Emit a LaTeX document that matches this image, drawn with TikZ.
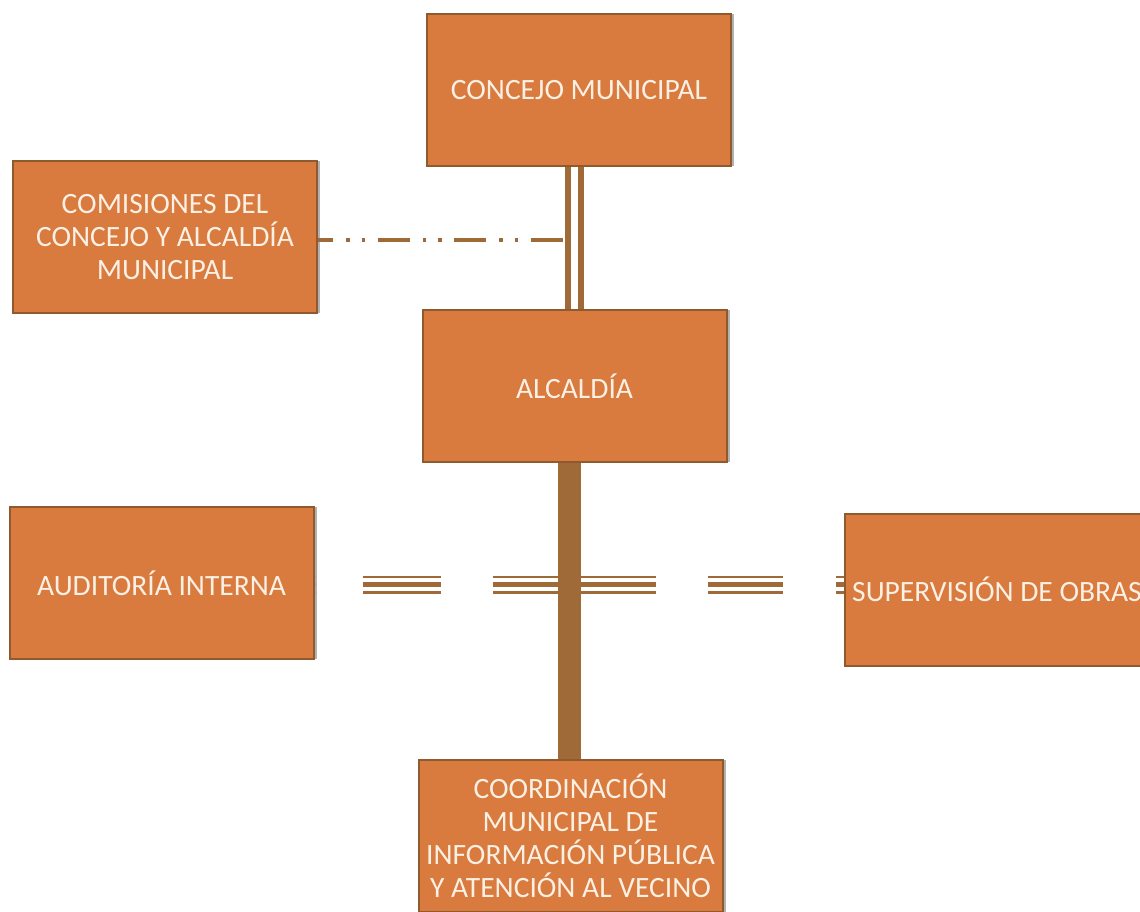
\documentclass[tikz,border=0pt]{standalone}
\usepackage{fontspec}
\setmainfont{Carlito}
\usetikzlibrary{shadows}
\definecolor{boxfill}{HTML}{D97A3E}
\definecolor{boxline}{HTML}{8E5A2E}
\definecolor{linkbrown}{HTML}{A06A38}
\definecolor{txt}{HTML}{FBF0E4}
\tikzset{
  orgbox/.style={draw=boxline, line width=2pt, fill=boxfill, text=txt,
    minimum width=304pt, minimum height=152pt, align=center, inner sep=2pt,
    font=\fontsize{29.5}{33}\selectfont,
    drop shadow={shadow xshift=3pt, shadow yshift=0pt, fill=black!30, opacity=1}},
  dbl/.style={draw=linkbrown, line width=6pt},
  bar/.style={draw=linkbrown, line width=23pt},
  dashdot/.style={draw=linkbrown, line width=4pt,
    dash pattern=on 32pt off 13pt on 3.5pt off 12pt on 3.5pt off 12.5pt,
    dash phase=17pt},
  tri/.style={draw=linkbrown,
    dash pattern=on 78pt off 52pt on 163pt off 52pt on 75pt off 53pt on 10pt off 48pt,
    dash phase=483pt}
}
\begin{document}
\begin{tikzpicture}[x=1pt,y=-1pt]
\useasboundingbox (0,0) rectangle (1140,912);
\fill[white] (0,0) rectangle (1140,912);
\clip (0,0) rectangle (1140,912);
\coordinate (vl) at (568,0);
\coordinate (vr) at (581,0);
\coordinate (bx) at (569,0);

\node[orgbox] (con) at (579,90.5) {CONCEJO MUNICIPAL};
\node[orgbox] (com) at (165,237) {COMISIONES DEL\\CONCEJO Y ALCALDÍA\\MUNICIPAL};
\node[orgbox] (alc) at (574.5,386) {ALCALDÍA};
\node[orgbox] (aud) at (161.5,583) {AUDITORÍA INTERNA};
\node[orgbox] (sup) at (997,589.5) {SUPERVISIÓN DE OBRAS};
\node[orgbox] (coo) at (570.5,836) {COORDINACIÓN\\MUNICIPAL DE\\INFORMACIÓN PÚBLICA\\Y ATENCIÓN AL VECINO};

% Concejo -> Alcaldia double line
\draw[dbl] (vl |- con.south) -- (vl |- alc.north);
\draw[dbl] (vr |- con.south) -- (vr |- alc.north);
% Comisiones dash-dot-dot
\draw[dashdot] ([yshift=-3pt]com.east) -- ([yshift=-3pt]com.east -| vl);
% Alcaldia -> Coordinacion bar
\draw[bar] (bx |- alc.south) -- (bx |- coo.north);
% Auditoria - Supervision triple dashed line
\draw[tri, line width=2.7pt] ([yshift=6pt]aud.east) -- ([yshift=6pt]aud.east -| sup.west);
\draw[tri, line width=5pt] ([yshift=-1.5pt]aud.east) -- ([yshift=-1.5pt]aud.east -| sup.west);
\draw[tri, line width=2.7pt] ([yshift=-9.5pt]aud.east) -- ([yshift=-9.5pt]aud.east -| sup.west);
\end{tikzpicture}
\end{document}
